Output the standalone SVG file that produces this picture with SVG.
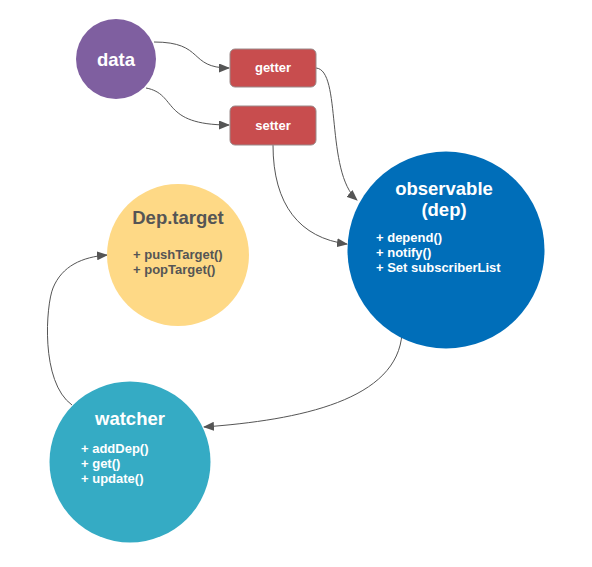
<svg xmlns="http://www.w3.org/2000/svg" width="592" height="567" viewBox="0 0 592 567">
<defs>
<style>
.t{font-family:"Liberation Sans",Arial,Helvetica,sans-serif;font-weight:bold}
.w{fill:#fff}
.g{fill:#555}
.c{fill:none;stroke:#555;stroke-width:1}
.s{font-size:13px}
</style>
<marker id="ah" markerWidth="11" markerHeight="9" refX="10" refY="4.5" orient="auto" markerUnits="userSpaceOnUse">
<path d="M0,0 L11,4.5 L0,9 Z" fill="#555"/>
</marker>
</defs>
<rect width="592" height="567" fill="#fff"/>
<g id="connectors">
<path class="c" d="M154,42 C205,42 188,68 229,68" marker-end="url(#ah)"/>
<path class="c" d="M146,88 C178,94 160,125 229,125" marker-end="url(#ah)"/>
<path class="c" d="M316,68 C342,70 325,172 357,200" marker-end="url(#ah)"/>
<path class="c" d="M273,145 C273,205 300,238 347,244" marker-end="url(#ah)"/>
<path class="c" d="M402,333 C398,400 300,420 204,427" marker-end="url(#ah)"/>
<path class="c" d="M72,405 C40,382 46,305 53,288 C62,266 82,257 107,255" marker-end="url(#ah)"/>
</g>
<g id="data">
<circle cx="116" cy="59" r="40" fill="#7F5FA0"/>
<text class="t w" x="116" y="66" font-size="18.5" text-anchor="middle">data</text>
</g>
<g id="getter">
<rect x="230" y="49" width="86" height="38" rx="5" fill="#C84D4E" stroke="#9a8a8a" stroke-width="1"/>
<text class="t w" x="273" y="72" font-size="13" text-anchor="middle">getter</text>
</g>
<g id="setter">
<rect x="230" y="106" width="86" height="39" rx="5" fill="#C84D4E" stroke="#9a8a8a" stroke-width="1"/>
<text class="t w" x="273" y="130" font-size="13" text-anchor="middle">setter</text>
</g>
<g id="deptarget">
<circle cx="178" cy="255" r="71" fill="#FED986"/>
<text class="t g" x="178" y="224" font-size="18.5" text-anchor="middle">Dep.target</text>
<text class="t g s" x="133" y="259">+ pushTarget()</text>
<text class="t g s" x="133" y="274">+ popTarget()</text>
</g>
<g id="observable">
<circle cx="446" cy="250" r="98.5" fill="#006EB9"/>
<text class="t w" x="444" y="195" font-size="18.5" text-anchor="middle">observable</text>
<text class="t w" x="444" y="216" font-size="18.5" text-anchor="middle">(dep)</text>
<text class="t w s" x="376" y="242">+ depend()</text>
<text class="t w s" x="376" y="257">+ notify()</text>
<text class="t w s" x="376" y="272">+ Set subscriberList</text>
</g>
<g id="watcher">
<circle cx="130" cy="462" r="80.5" fill="#35ABC4"/>
<text class="t w" x="130" y="425" font-size="18.5" text-anchor="middle">watcher</text>
<text class="t w s" x="81" y="453">+ addDep()</text>
<text class="t w s" x="81" y="468">+ get()</text>
<text class="t w s" x="81" y="483">+ update()</text>
</g>
</svg>
